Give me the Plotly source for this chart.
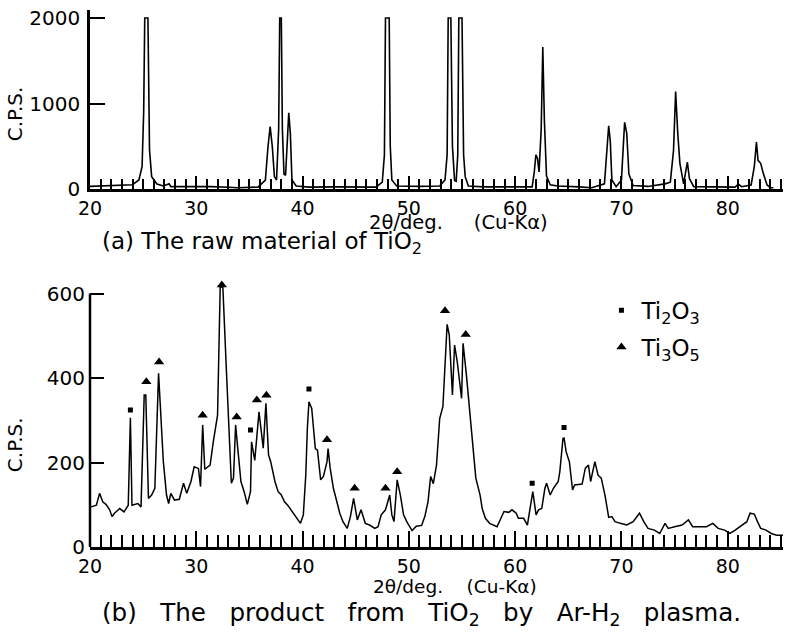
import plotly.graph_objects as go

# ---------------- data: (a) raw TiO2 ----------------
raw_deg = [20.0, 20.9, 22.5, 24.0, 24.6, 24.9, 25.05, 25.15, 25.45, 25.5, 25.6, 25.8, 26.3, 26.9,
           27.3, 27.45, 27.6, 29.5, 31.4, 33.0, 33.9, 35.8, 36.5, 36.75, 36.95, 37.15, 37.35,
           37.55, 37.75, 37.85, 38.0, 38.1, 38.25, 38.4, 38.6, 38.7, 38.85, 39.0, 39.4, 40.6,
           43.0, 46.9, 47.5, 47.7, 47.8, 48.15, 48.25, 48.4, 48.85, 51.0, 52.9, 53.4, 53.6,
           53.7, 53.95, 54.1, 54.3, 54.45, 54.6, 54.7, 55.0, 55.15, 55.3, 55.6, 57.0, 59.0,
           61.6, 61.8, 61.95, 62.1, 62.25, 62.45, 62.6, 62.75, 62.95, 63.3, 64.0, 66.0, 67.2,
           68.4, 68.6, 68.8, 68.95, 69.1, 69.5, 70.0, 70.2, 70.3, 70.5, 70.7, 71.1, 72.5,
           74.1, 74.6, 74.9, 75.1, 75.3, 75.5, 75.85, 76.05, 76.2, 76.4, 76.8, 78.5, 80.7,
           81.0, 81.3, 82.2, 82.5, 82.7, 82.85, 83.1, 83.35, 83.7, 84.0, 84.3]
raw_cps = [30, 35, 40, 50, 105, 260, 900, 2000, 2000, 1200, 456, 144, 58, 35,
           58, 60, 27, 30, 27, 20, 15, 22, 105, 500, 730, 500, 145,
           105, 700, 2000, 2000, 700, 175, 160, 700, 890, 650, 105, 35, 22,
           25, 22, 80, 400, 2000, 2000, 500, 105, 35, 30, 35, 105, 400,
           2000, 2000, 500, 100, 90, 400, 2000, 2000, 400, 144, 35, 25, 25,
           25, 200, 400, 360, 200, 700, 1660, 800, 150, 50, 35, 25, 15,
           60, 450, 740, 560, 105, 27, 105, 560, 780, 650, 176, 40, 30,
           60, 80, 450, 1140, 650, 300, 60, 200, 315, 120, 27, 25, 22,
           58, 27, 47, 260, 550, 335, 300, 180, 47, 15, 15]

# ---------------- data: (b) product by Ar-H2 plasma ----------------
prod_deg = [20.1, 20.6, 20.9, 21.2, 21.5, 21.85, 22.07, 22.3, 22.8, 23.2, 23.6, 23.8, 23.95,
            24.5, 24.8, 25.1, 25.25, 25.5, 25.8, 26.1, 26.45, 26.9, 27.2, 27.4, 27.6, 27.95,
            28.4, 28.8, 29.1, 29.5, 29.8, 30.2, 30.4, 30.6, 30.8, 31.3, 31.6, 32.0, 32.25,
            32.5, 32.8, 33.0, 33.3, 33.5, 33.7, 33.9, 34.2, 34.5, 34.8, 35.1, 35.2, 35.5,
            35.9, 36.3, 36.55, 36.8, 37.0, 37.4, 37.7, 38.0, 38.3, 38.6, 39.0, 39.4, 39.8,
            40.07, 40.3, 40.45, 40.6, 40.86, 41.2, 41.4, 41.7, 41.96, 42.3, 42.4, 42.6, 42.9,
            43.2, 43.5, 43.8, 44.2, 44.5, 44.8, 45.15, 45.5, 45.9, 46.3, 46.8, 47.1, 47.4,
            47.8, 48.2, 48.4, 48.6, 48.9, 49.2, 49.5, 49.8, 50.3, 50.7, 51.2, 51.5, 51.8,
            52.05, 52.3, 52.6, 52.9, 53.2, 53.4, 53.6, 53.8, 54.1, 54.3, 54.55, 54.96, 55.1,
            55.4, 55.8, 56.1, 56.3, 56.7, 56.9, 57.2, 57.6, 58.3, 58.6, 58.95, 59.4, 59.7,
            60.1, 60.3, 60.8, 61.15, 61.4, 61.66, 61.97, 62.2, 62.5, 62.8, 62.96, 63.3, 63.6,
            64.05, 64.2, 64.5, 64.6, 64.8, 65.1, 65.4, 65.6, 66.3, 66.6, 66.9, 67.1, 67.5,
            67.8, 68.1, 68.45, 68.8, 69.1, 69.4, 69.9, 70.5, 71.1, 71.7, 72.1, 72.5, 73.1,
            73.6, 74.1, 74.4, 75.0, 75.7, 76.3, 76.7, 77.4, 78.0, 78.6, 79.1, 79.7, 80.2,
            80.7, 81.1, 81.8, 82.1, 82.5, 82.8, 83.1, 83.6, 84.1, 84.6, 85.2]
prod_cps = [95, 99, 127, 107, 101, 88, 72, 80, 91, 83, 99, 306, 99,
            103, 95, 360, 360, 115, 123, 139, 411, 202, 123, 103, 127, 111,
            113, 151, 127, 155, 190, 186, 143, 289, 184, 194, 249, 312, 615,
            615, 437, 328, 151, 163, 289, 234, 155, 131, 101, 131, 249, 205,
            320, 234, 340, 218, 202, 155, 131, 123, 107, 99, 84, 72, 56,
            76, 170, 281, 344, 328, 233, 229, 159, 167, 202, 233, 186, 139,
            107, 80, 60, 44, 72, 115, 64, 88, 56, 52, 44, 48, 76,
            88, 123, 76, 60, 159, 123, 76, 60, 39, 49, 51, 72, 107,
            167, 150, 194, 304, 332, 446, 527, 502, 360, 478, 439, 352, 482,
            411, 304, 225, 163, 123, 91, 68, 56, 48, 64, 84, 82, 88,
            80, 68, 68, 52, 91, 131, 76, 88, 91, 139, 151, 123, 139,
            155, 178, 257, 258, 225, 202, 135, 147, 149, 186, 194, 155, 202,
            170, 163, 123, 70, 72, 60, 56, 52, 60, 80, 60, 44, 40,
            32, 56, 44, 48, 52, 64, 48, 48, 48, 56, 44, 40, 32,
            40, 48, 60, 80, 78, 60, 44, 40, 32, 28, 28]

# phase markers in (b)
ti2o3_deg = [23.8, 35.1, 40.6, 61.6, 64.6]
ti2o3_cps = [324, 277, 374, 151, 283]
ti3o5_deg = [25.3, 26.5, 30.6, 32.4, 33.8, 35.7, 36.6, 42.3, 44.9, 47.8, 48.9, 53.4, 55.35]
ti3o5_cps = [391, 438, 312, 620, 308, 348, 359, 254, 139, 139, 178, 559, 503]

x_ticks = [20, 30, 40, 50, 60, 70, 80]
top_yticks = [0, 1000, 2000]
bot_yticks = [0, 200, 400, 600]

FONT = "DejaVu Sans"
NB = "\u00a0"

fig = go.Figure()
fig.add_trace(go.Scatter(x=raw_deg, y=raw_cps, mode="lines", xaxis="x", yaxis="y",
                         line=dict(color="black", width=1.6), showlegend=False))
fig.add_trace(go.Scatter(x=prod_deg, y=prod_cps, mode="lines", xaxis="x2", yaxis="y2",
                         line=dict(color="black", width=1.5), showlegend=False))
fig.add_trace(go.Scatter(x=ti2o3_deg, y=ti2o3_cps, mode="markers", xaxis="x2", yaxis="y2",
                         marker=dict(symbol="square", size=5, color="black"),
                         name="Ti<sub>2</sub>O<sub>3</sub>", legendgroup="a", showlegend=True))
fig.add_trace(go.Scatter(x=ti3o5_deg, y=ti3o5_cps, mode="markers", xaxis="x2", yaxis="y2",
                         marker=dict(symbol="triangle-up", size=9, color="black"),
                         name="Ti<sub>3</sub>O<sub>5</sub>", legendgroup="b", showlegend=True))

xcommon = dict(range=[20, 85.2], showline=True, linecolor="black", linewidth=2.5,
               ticks="inside", tickcolor="black", tickwidth=1.5, tickvals=x_ticks,
               showgrid=False, zeroline=False, tickfont=dict(family=FONT, size=19, color="black"))

fig.update_layout(
    width=785, height=639,
    margin=dict(l=90, r=2, t=10, b=92),
    paper_bgcolor="white", plot_bgcolor="white",
    font=dict(family=FONT, color="black"),
    xaxis=dict(**xcommon, domain=[0, 1], anchor="y", ticklen=13,
               minor=dict(dtick=1, tick0=20, ticks="inside", ticklen=10, tickwidth=1.5,
                          tickcolor="black", showgrid=False)),
    yaxis=dict(domain=[0.6667, 1], range=[0, 2094], anchor="x", showline=True,
               linecolor="black", linewidth=2.5, ticks="inside", tickcolor="black",
               tickwidth=1.5, ticklen=15, tickvals=top_yticks, showgrid=False, zeroline=False,
               ticklabelstandoff=3, tickfont=dict(family=FONT, size=20, color="black")),
    xaxis2=dict(**xcommon, domain=[0, 1], anchor="y2", ticklen=16,
                minor=dict(dtick=1, tick0=20, ticks="inside", ticklen=12, tickwidth=1.5,
                           tickcolor="black", showgrid=False)),
    yaxis2=dict(domain=[0, 0.5035], range=[0, 640], anchor="x2", showline=False,
                ticks="inside", tickcolor="black", tickwidth=1.5, ticklen=14,
                tickvals=bot_yticks, showgrid=False, zeroline=False, ticklabelstandoff=4,
                tickfont=dict(family=FONT, size=20, color="black")),
    legend=dict(x=0.738, y=0.481, xanchor="left", yanchor="top", bgcolor="rgba(0,0,0,0)",
                font=dict(family=FONT, size=23, color="black"), itemwidth=30,
                tracegroupgap=4),
    shapes=[dict(type="line", xref="paper", yref="y2", x0=0, x1=0, y0=0, y1=600,
                 line=dict(color="black", width=2.5))],
)

ann = [
    dict(text="C.P.S.", x=-0.108, y=0.806, textangle=-90, size=20),
    dict(text="C.P.S.", x=-0.108, y=0.19, textangle=-90, size=20),
    dict(text="2θ/deg." + NB * 5 + "(Cu-Kα)", x=0.532, y=0.604, size=19.5),
    dict(text="2θ/deg." + NB * 4 + "(Cu-Kα)", x=0.527, y=-0.074, size=18.5),
]
for a in ann:
    fig.add_annotation(text=a["text"], x=a["x"], y=a["y"], xref="paper", yref="paper",
                       showarrow=False, textangle=a.get("textangle", 0),
                       font=dict(family=FONT, size=a["size"], color="black"),
                       xanchor="center", yanchor="middle")

fig.add_annotation(text="(a) The raw material of TiO<sub>2</sub>".replace(" ", NB),
                   x=0.0144, y=0.566, xref="paper", yref="paper", showarrow=False,
                   xanchor="left", yanchor="middle",
                   font=dict(family=FONT, size=23, color="black"))
fig.add_annotation(text="(b) The product from TiO<sub>2</sub> by Ar-H<sub>2</sub> plasma.".replace(" ", NB * 3),
                   x=0.0144, y=-0.124, xref="paper", yref="paper", showarrow=False,
                   xanchor="left", yanchor="middle",
                   font=dict(family=FONT, size=24.6, color="black"))

fig.write_html("out.html", config={"displayModeBar": False},
               post_script="document.body.style.margin='0';document.body.style.padding='0';")
